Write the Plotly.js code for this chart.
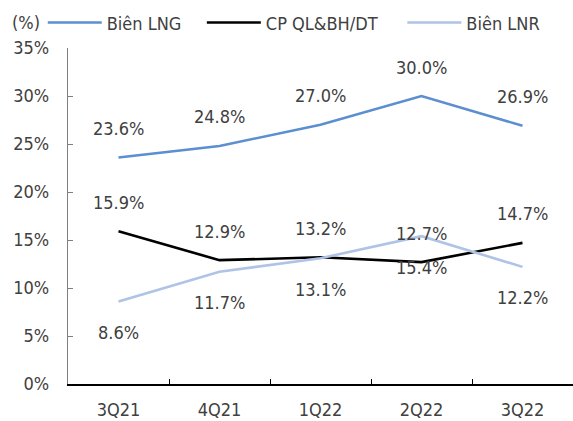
<!DOCTYPE html>
<html>
<head>
<meta charset="utf-8">
<script src="https://cdn.plot.ly/plotly-3.0.1.min.js"></script>
<style>html,body{margin:0;padding:0;background:#fff;}#chart{width:573px;height:421px;}</style>
</head>
<body>
<div id="chart"></div>
<script>
const categories = ['3Q21', '4Q21', '1Q22', '2Q22', '3Q22'];
const seriesNames = ['Biên LNG', 'CP QL&BH/DT', 'Biên LNR'];
const bienLNG = [23.6, 24.8, 27.0, 30.0, 26.9];
const cpQLBH = [15.9, 12.9, 13.2, 12.7, 14.7];
const bienLNR = [8.6, 11.7, 13.1, 15.4, 12.2];
const yTickVals = [0, 5, 10, 15, 20, 25, 30, 35];

const FONT = 'DejaVu Sans Condensed, DejaVu Sans, sans-serif';
const TXT = '#404040';
const colors = ['#5B8FD0', '#000000', '#AFC3E6'];
const allSeries = [bienLNG, cpQLBH, bienLNR];
const shifts = [29, 29, -31];
const legendIds = ['legend', 'legend2', 'legend3'];
const legendX = [-0.05, 0.265, 0.662];

const traces = allSeries.map((vals, i) => ({
  type: 'scatter', mode: 'lines', x: categories, y: vals, name: seriesNames[i],
  legend: legendIds[i],
  line: {color: colors[i], width: 2.6}, hoverinfo: 'skip'
}));

const annotations = [];
allSeries.forEach((vals, i) => {
  vals.forEach((v, j) => {
    annotations.push({
      x: categories[j], y: v, xref: 'x', yref: 'y', text: v.toFixed(1) + '%',
      showarrow: false, yshift: shifts[i], font: {family: FONT, size: 18, color: TXT}
    });
  });
});
annotations.push({
  xref: 'paper', yref: 'paper', x: -0.115, y: 1.075, xanchor: 'left', yanchor: 'middle',
  text: '(%)', showarrow: false, font: {family: FONT, size: 18, color: TXT}
});

const layout = {
  width: 573, height: 421,
  margin: {l: 68, r: 0, t: 48, b: 37},
  paper_bgcolor: '#fff', plot_bgcolor: '#fff',
  font: {family: FONT, size: 18, color: TXT},
  showlegend: true,
  xaxis: {type: 'category', range: [-0.5, 4.5], showline: true, linecolor: '#000', linewidth: 1.5,
          ticks: 'inside', ticklen: 5, tickcolor: '#000', tickson: 'boundaries', showgrid: false,
          zeroline: false, ticklabelstandoff: 9, fixedrange: true},
  yaxis: {range: [0, 35], tickvals: yTickVals, ticktext: yTickVals.map(v => v + '%'),
          showline: true, linecolor: '#7f7f7f', linewidth: 1.2, ticks: 'inside', ticklen: 5,
          tickcolor: '#7f7f7f', showgrid: false, zeroline: false, ticklabelstandoff: 14, fixedrange: true},
  annotations: annotations
};
legendIds.forEach((id, i) => {
  layout[id] = {orientation: 'h', x: legendX[i], xanchor: 'left', y: 1.075, yanchor: 'middle',
    itemwidth: 54, font: {family: FONT, size: 18, color: TXT}, itemclick: false,
    bgcolor: 'rgba(0,0,0,0)'};
});

Plotly.newPlot('chart', traces, layout, {displayModeBar: false, staticPlot: true});
</script>
</body>
</html>
